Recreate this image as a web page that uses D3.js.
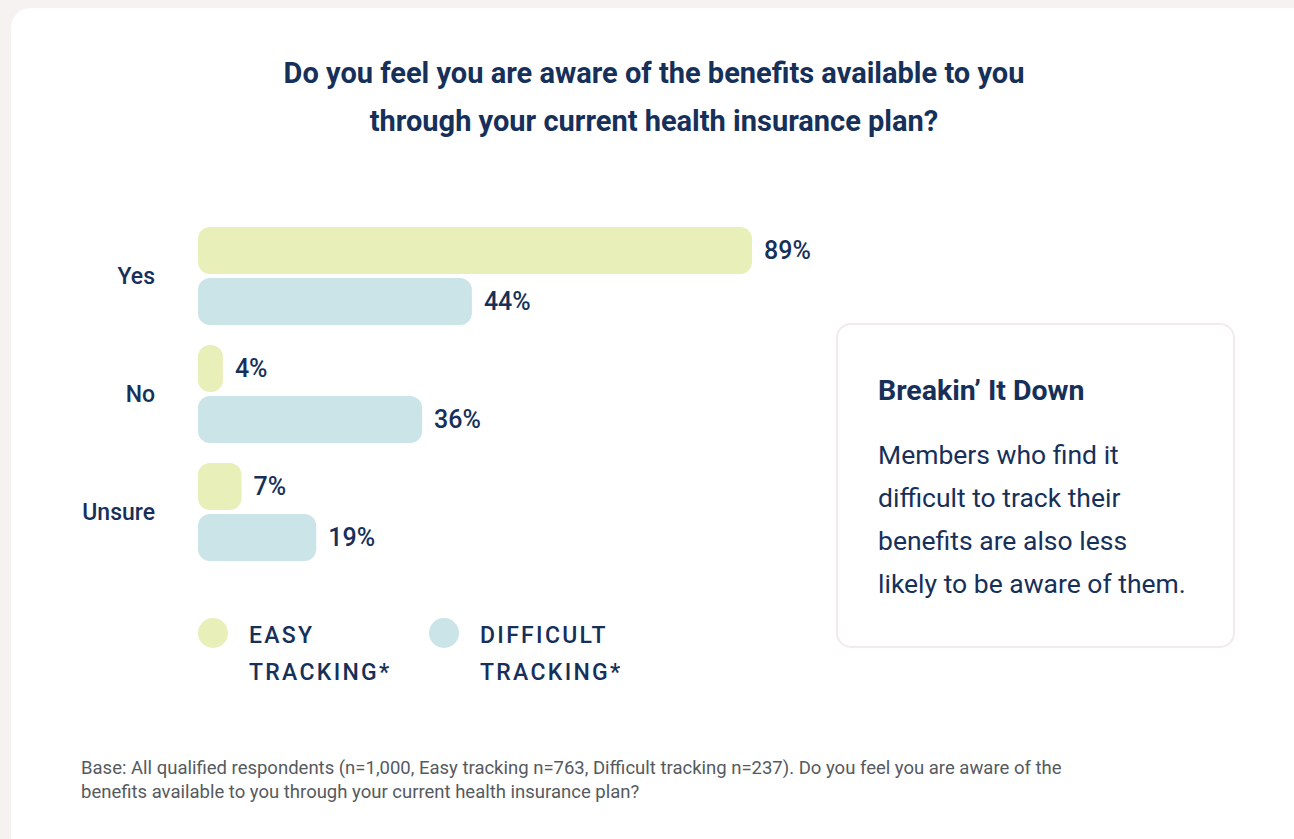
<!DOCTYPE html>
<html>
<head>
<meta charset="utf-8">
<script src="https://cdn.jsdelivr.net/npm/d3@7"></script>
<style>
  html, body { margin: 0; padding: 0; background: #f5f2f1; }
  svg { display: block; font-family: Roboto, "Noto Sans", sans-serif; }
</style>
</head>
<body>
<svg id="chart" width="1294" height="839"></svg>
<script>
// Survey answers and the share of each tracking group choosing them
const categories = ["Yes", "No", "Unsure"];
const seriesNames = ["EASY TRACKING*", "DIFFICULT TRACKING*"];
const easyValues = [89, 4, 7];
const difficultValues = [44, 36, 19];
const titleLines = [
  "Do you feel you are aware of the benefits available to you",
  "through your current health insurance plan?"
];
const calloutTitle = "Breakin\u2019 It Down";
const calloutLines = [
  "Members who find it",
  "difficult to track their",
  "benefits are also less",
  "likely to be aware of them."
];
const footnoteLines = [
  "Base: All qualified respondents (n=1,000, Easy tracking n=763, Difficult tracking n=237). Do you feel you are aware of the",
  "benefits available to you through your current health insurance plan?"
];

const navy = "#16305a";
const colors = ["#e8efb8", "#cbe4e7"];

const svg = d3.select("#chart");

// White card
svg.append("rect")
  .attr("x", 11).attr("y", 8)
  .attr("width", 1300).attr("height", 860)
  .attr("rx", 20)
  .attr("fill", "#ffffff");

// Title
svg.append("g").selectAll("text")
  .data(titleLines)
  .join("text")
  .attr("x", 654)
  .attr("y", (d, i) => 83 + i * 48)
  .attr("text-anchor", "middle")
  .attr("font-size", 29)
  .attr("font-weight", 700)
  .attr("fill", navy)
  .text(d => d);

// Scales
const x = d3.scaleLinear().domain([0, 100]).range([198, 198 + 622.5]);
const y = d3.scaleBand().domain(categories).range([227, 561]).paddingInner(20 / 118).paddingOuter(0);
const inner = d3.scaleBand().domain([0, 1]).range([0, y.bandwidth()]).paddingInner(4 / 51);

const rows = categories.map((c, i) => ({ cat: c, vals: [easyValues[i], difficultValues[i]] }));

const groups = svg.append("g").selectAll("g")
  .data(rows)
  .join("g")
  .attr("transform", d => `translate(0,${y(d.cat)})`);

groups.selectAll("rect")
  .data(d => d.vals.map((v, k) => ({ v, k })))
  .join("rect")
  .attr("x", x(0))
  .attr("y", d => inner(d.k))
  .attr("width", d => x(d.v) - x(0))
  .attr("height", inner.bandwidth())
  .attr("rx", 12)
  .attr("fill", d => colors[d.k]);

groups.selectAll("text.val")
  .data(d => d.vals.map((v, k) => ({ v, k })))
  .join("text")
  .attr("class", "val")
  .attr("x", d => x(d.v) + 12)
  .attr("y", d => inner(d.k) + inner.bandwidth() / 2)
  .attr("dy", "0.35em")
  .attr("font-size", 25)
  .attr("font-weight", 500)
  .attr("fill", navy)
  .text(d => d.v + "%");

// Category axis labels
groups.append("text")
  .attr("x", 155)
  .attr("y", y.bandwidth() / 2)
  .attr("dy", "0.35em")
  .attr("text-anchor", "end")
  .attr("font-size", 23)
  .attr("font-weight", 500)
  .attr("fill", navy)
  .text(d => d.cat);

// Legend
const legendX = [213, 444];
const legend = svg.append("g").selectAll("g")
  .data(seriesNames)
  .join("g")
  .attr("transform", (d, i) => `translate(${legendX[i]},633)`);

legend.append("circle")
  .attr("r", 15)
  .attr("fill", (d, i) => colors[i]);

legend.append("text")
  .attr("font-size", 23)
  .attr("font-weight", 500)
  .attr("letter-spacing", 2.3)
  .attr("fill", navy)
  .selectAll("tspan")
  .data(d => d.split(" "))
  .join("tspan")
  .attr("x", 36)
  .attr("y", (d, i) => 10 + i * 37)
  .text(d => d);

// Callout box
svg.append("rect")
  .attr("x", 837).attr("y", 324)
  .attr("width", 397).attr("height", 323)
  .attr("rx", 14)
  .attr("fill", "#ffffff")
  .attr("stroke", "#f1eceb")
  .attr("stroke-width", 2);

svg.append("text")
  .attr("x", 878).attr("y", 400)
  .attr("font-size", 28.5)
  .attr("font-weight", 700)
  .attr("fill", navy)
  .text(calloutTitle);

svg.append("g").selectAll("text")
  .data(calloutLines)
  .join("text")
  .attr("x", 878)
  .attr("y", (d, i) => 464 + i * 43)
  .attr("font-size", 26.5)
  .attr("fill", navy)
  .text(d => d);

// Footnote
svg.append("g").selectAll("text")
  .data(footnoteLines)
  .join("text")
  .attr("x", 81)
  .attr("y", (d, i) => 774 + i * 24)
  .attr("font-size", 18.5)
  .attr("fill", "#555a60")
  .text(d => d);
</script>
</body>
</html>
